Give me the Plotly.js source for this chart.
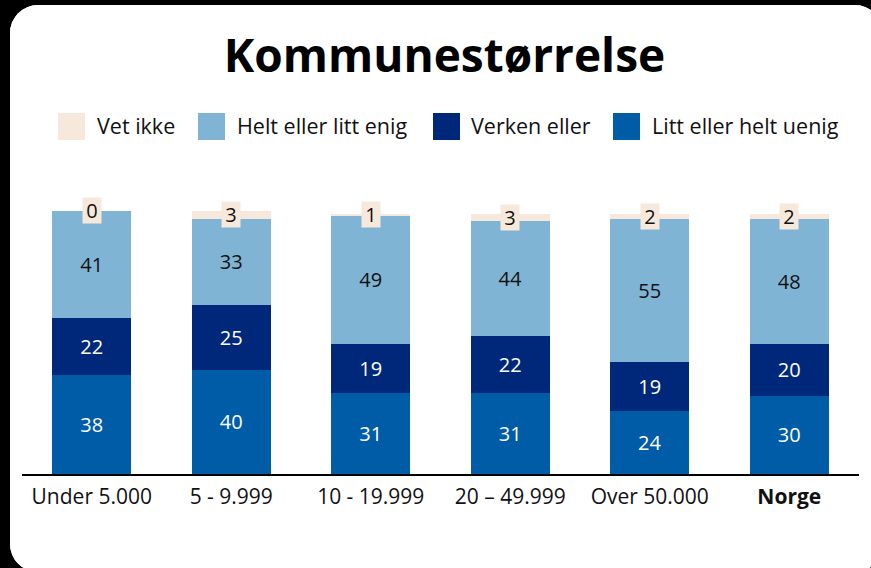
<!DOCTYPE html>
<html>
<head>
<meta charset="utf-8">
<script src="https://cdn.plot.ly/plotly-3.0.1.min.js"></script>
<style>
  html, body { margin: 0; padding: 0; background: #000; width: 871px; height: 568px; overflow: hidden; }
  #card { position: absolute; left: 10px; top: 5px; width: 873px; height: 567px; border-radius: 28px; overflow: hidden; background: #fff; }
  #chart { width: 873px; height: 567px; }
</style>
</head>
<body>
<div id="card"><div id="chart"></div></div>
<script>
// ---- data ----
const categories = ['Under 5.000', '5 - 9.999', '10 - 19.999', '20 \u2013 49.999', 'Over 50.000', 'Norge'];
const tickLabels = ['Under 5.000', '5 - 9.999', '10 - 19.999', '20 \u2013 49.999', 'Over 50.000', '<b>Norge</b>'];
const uenig   = [38, 40, 31, 31, 24, 30];   // Litt eller helt uenig
const verken  = [22, 25, 19, 22, 19, 20];   // Verken eller
const enig    = [41, 33, 49, 44, 55, 48];   // Helt eller litt enig
const vetIkke = [0, 3, 1, 3, 2, 2];         // Vet ikke
const seriesNames = ['Vet ikke', 'Helt eller litt enig', 'Verken eller', 'Litt eller helt uenig'];

// ---- styles ----
const C_VET = '#F7E8DC', C_ENIG = '#7FB4D4', C_VERKEN = '#00287A', C_UENIG = '#005CA6';
const FONT = 'Open Sans, Lato, sans-serif';

function barTrace(name, y, color, txtColor, showText) {
  return {
    type: 'bar', name: name, x: categories, y: y,
    marker: { color: color, line: { width: 0 } },
    text: showText ? y.map(String) : undefined,
    textposition: showText ? 'inside' : 'none',
    insidetextanchor: 'middle',
    textangle: 0,
    insidetextfont: { family: FONT, size: 20, color: txtColor },
    hoverinfo: 'x+y+name',
    showlegend: false
  };
}

const traces = [
  barTrace(seriesNames[3], uenig, C_UENIG, '#ffffff', true),
  barTrace(seriesNames[2], verken, C_VERKEN, '#ffffff', true),
  barTrace(seriesNames[1], enig, C_ENIG, '#111111', true),
  barTrace(seriesNames[0], vetIkke, C_VET, '#111111', false)
];

// "Vet ikke" labels with boxed background
const annotations = categories.map((c, i) => ({
  x: c, xref: 'x', yref: 'y',
  y: uenig[i] + verken[i] + enig[i] + vetIkke[i] / 2,
  text: String(vetIkke[i]), showarrow: false,
  bgcolor: C_VET, borderpad: 1, width: 16, height: 23,
  font: { family: FONT, size: 20, color: '#111111' },
  xanchor: 'center', yanchor: 'middle'
}));

// manual legend (layout positions in page pixels)
const M = { l: 12, r: 24, t: 145, b: 98 };
const W = 873, H = 567, OX = 10, OY = 5;
const PW = W - M.l - M.r, PH = H - M.t - M.b;
const px = xp => (xp - OX - M.l) / PW;
const py = yp => (H - M.b - (yp - OY)) / PH;
const legendColors = [C_VET, C_ENIG, C_VERKEN, C_UENIG];
const legendSquareX = [58, 198, 433, 613];
const legendTextX = [95, 235, 469, 650];
const shapes = [];
seriesNames.forEach((n, i) => {
  shapes.push({
    type: 'rect', xref: 'paper', yref: 'paper',
    x0: px(legendSquareX[i]), x1: px(legendSquareX[i] + 27),
    y0: py(140), y1: py(113),
    fillcolor: legendColors[i], line: { width: 0 }
  });
  annotations.push({
    xref: 'paper', yref: 'paper', x: px(legendTextX[i]), y: py(126),
    xanchor: 'left', yanchor: 'middle', showarrow: false, text: n,
    font: { family: FONT, size: 21.5, color: '#111111' }
  });
});

const layout = {
  width: W, height: H,
  margin: M,
  paper_bgcolor: '#ffffff', plot_bgcolor: '#ffffff',
  barmode: 'stack', bargap: 0.434,
  showlegend: false,
  title: {
    text: '<b>Kommunestørrelse</b>',
    font: { family: FONT, size: 46, color: '#000000' },
    x: 434.5 / W, xref: 'container', xanchor: 'center',
    y: 1 - 51 / H, yref: 'container', yanchor: 'middle'
  },
  xaxis: {
    type: 'category', tickvals: categories, ticktext: tickLabels,
    showline: true, linecolor: '#000000', linewidth: 2,
    ticks: '', showgrid: false, zeroline: false,
    tickfont: { family: FONT, size: 21, color: '#111111' },
    ticklabelstandoff: 3
  },
  yaxis: {
    range: [0, 124.4], visible: false, showgrid: false, zeroline: false, fixedrange: true
  },
  annotations: annotations,
  shapes: shapes
};

Plotly.newPlot('chart', traces, layout, { displayModeBar: false, staticPlot: true });
</script>
</body>
</html>
